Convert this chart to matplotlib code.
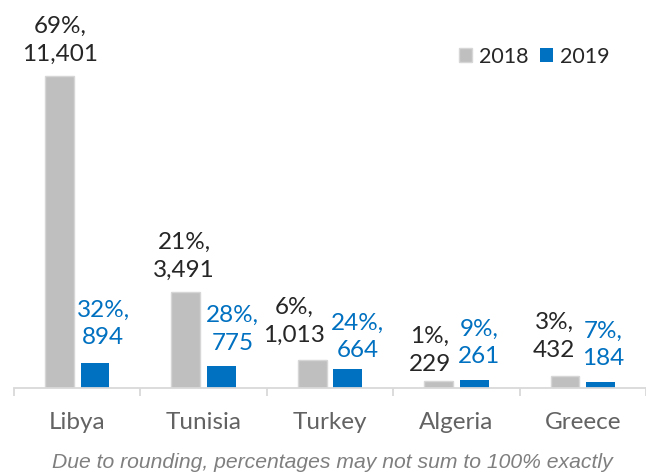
import matplotlib
matplotlib.use("Agg")
import matplotlib.pyplot as plt
from matplotlib.patches import Patch
import numpy as np

# ---- data ----
categories = ["Libya", "Tunisia", "Turkey", "Algeria", "Greece"]
values_2018 = [11401, 3491, 1013, 229, 432]
values_2019 = [894, 775, 664, 261, 184]
pct_2018 = ["69%", "21%", "6%", "1%", "3%"]
pct_2019 = ["32%", "28%", "24%", "9%", "7%"]
series_names = ["2018", "2019"]

# label offsets (pixels) relative to bar centre / bar top: (dx, gap to baseline of lower line)
offs_2018 = [(1, 15.5), (-1.5, 15.5), (-18, 18), (-9, 10.5), (-11, 19)]
offs_2019 = [(8, 19), (11, 16.5), (10, 12.5), (5, 17), (3, 17.5)]

GRAY = "#bfbfbf"
BLUE = "#0070c0"
DARK = "#262626"

W, H = 646, 473
fig = plt.figure(figsize=(W / 100, H / 100), dpi=100)
px_unit = 128.4
base_y = 387.5
scale = 0.02732  # px per unit
ax = fig.add_axes([14 / W, (H - base_y) / H, (W - 14) / W, base_y / H])
ax.set_xlim(-0.5, -0.5 + (W - 14) / px_unit)
ax.set_ylim(0, base_y / scale)

x = np.arange(len(categories))
bw = 0.228
off = 0.141
ax.bar(x - off, values_2018, bw, color=GRAY, edgecolor="#d6d6d6", linewidth=1.0, zorder=2)
ax.bar(x + off, values_2019, bw, color=BLUE, linewidth=0, zorder=2)

for s in ["top", "right", "left"]:
    ax.spines[s].set_visible(False)
ax.spines["bottom"].set_color("#d9d9d9")
ax.spines["bottom"].set_linewidth(1.3)
ax.set_yticks([])
ax.set_xticks([])
ax.set_xticks(np.arange(-0.5, len(categories) + 0.5, 1.0), minor=True)
ax.tick_params(axis="x", which="minor", length=5.5, width=1.3, color="#d9d9d9", labelbottom=False)
ax.tick_params(axis="x", which="major", length=0)

FS = 17.5
LINE = 27.5
for vals, pcts, offs, dxs, col in [
    (values_2018, pct_2018, offs_2018, -off, DARK),
    (values_2019, pct_2019, offs_2019, off, BLUE),
]:
    for i, (v, p, (dx, gap)) in enumerate(zip(vals, pcts, offs)):
        ax.annotate(f"{v:,}", xy=(i + dxs, v), xytext=(dx, gap), textcoords="offset pixels",
                    ha="center", va="baseline", fontsize=FS, family="Lato", color=col,
                    annotation_clip=False)
        ax.annotate(f"{p},", xy=(i + dxs, v), xytext=(dx, gap + LINE), textcoords="offset pixels",
                    ha="center", va="baseline", fontsize=FS, family="Lato", color=col,
                    annotation_clip=False)

for i, c in enumerate(categories):
    ax.annotate(c, xy=(i, 0), xycoords=("data", "axes fraction"), xytext=(0, -(429.3 - base_y)),
                textcoords="offset pixels", ha="center", va="baseline", fontsize=17.5,
                family="Lato", fontweight="normal", color="#636363", annotation_clip=False)

handles = [Patch(facecolor=GRAY, edgecolor="#d6d6d6", linewidth=1.0),
           Patch(facecolor=BLUE, linewidth=0)]
leg = fig.legend(handles, series_names, loc="upper left", bbox_to_anchor=(459 / W, 1 - 47 / H),
                 ncol=2, frameon=False, prop={"family": "Lato", "size": 15.5},
                 handlelength=0.62, handleheight=0.62, handletextpad=0.3, columnspacing=0.55,
                 borderpad=0, borderaxespad=0)
for t in leg.get_texts():
    t.set_color(DARK)

fig.text(332 / W, 1 - 468 / H, "Due to rounding, percentages may not sum to 100% exactly",
         ha="center", va="baseline", fontsize=15.25, style="italic", family="Liberation Sans",
         color="#7f7f7f")

fig.savefig("out.png", dpi=100)
